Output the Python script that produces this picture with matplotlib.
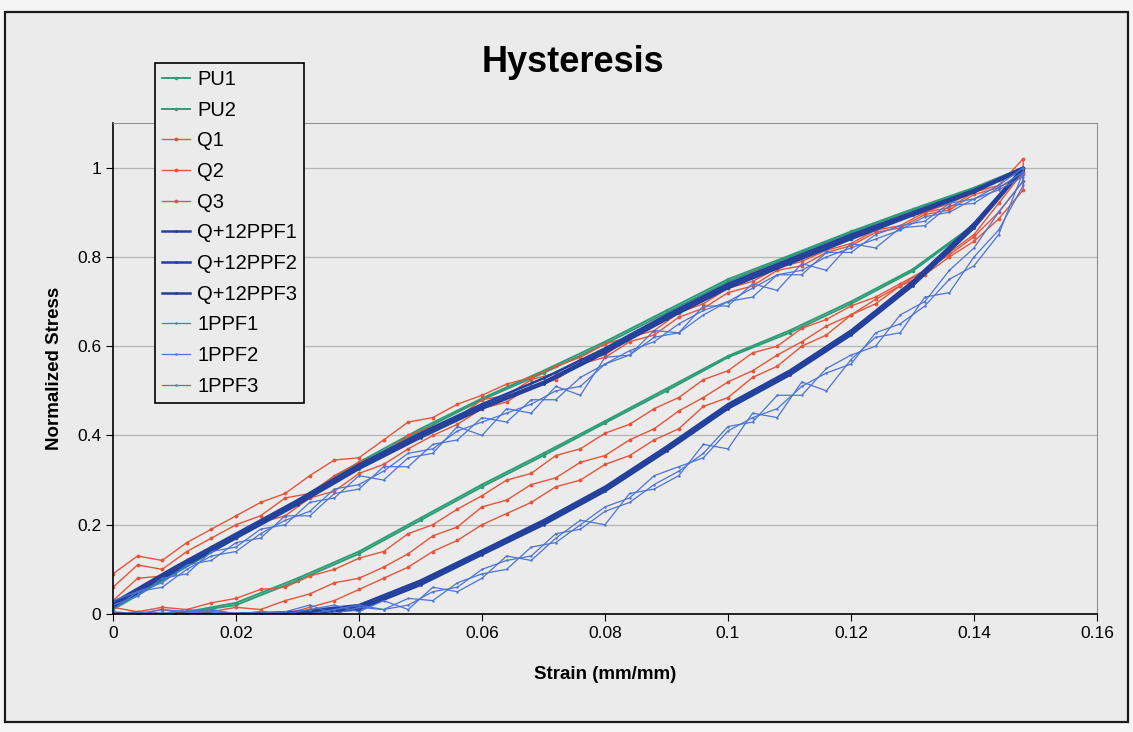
import matplotlib.pyplot as plt
from matplotlib.patches import Rectangle

# strain grids (mm/mm)
strain_c = [0.0, 0.01, 0.02, 0.03, 0.04, 0.05, 0.06, 0.07, 0.08, 0.09,
            0.10, 0.11, 0.12, 0.13, 0.14, 0.148]
strain_f = [0.000, 0.004, 0.008, 0.012, 0.016, 0.020, 0.024, 0.028, 0.032, 0.036,
            0.040, 0.044, 0.048, 0.052, 0.056, 0.060, 0.064, 0.068, 0.072, 0.076,
            0.080, 0.084, 0.088, 0.092, 0.096, 0.100, 0.104, 0.108, 0.112, 0.116,
            0.120, 0.124, 0.128, 0.132, 0.136, 0.140, 0.144, 0.148]

# normalized stress, loading (up) and unloading (lo) branches
pu1_up = [0.01, 0.09, 0.17, 0.25, 0.335, 0.41, 0.48, 0.54, 0.605, 0.675, 0.745, 0.80, 0.855, 0.905, 0.952, 1.0]
pu1_lo = [0.0, 0.0, 0.02, 0.075, 0.135, 0.21, 0.285, 0.355, 0.428, 0.50, 0.575, 0.63, 0.695, 0.768, 0.87, 1.0]
pu2_up = [0.015, 0.095, 0.175, 0.255, 0.34, 0.415, 0.483, 0.545, 0.61, 0.68, 0.75, 0.803, 0.857, 0.907, 0.955, 1.0]
pu2_lo = [0.0, 0.0, 0.025, 0.08, 0.14, 0.215, 0.29, 0.36, 0.432, 0.505, 0.578, 0.635, 0.70, 0.772, 0.872, 1.0]

q1_up = [0.09, 0.13, 0.12, 0.16, 0.19, 0.22, 0.25, 0.27, 0.31, 0.345, 0.35, 0.39, 0.43, 0.44, 0.47, 0.49, 0.515, 0.53, 0.555,
         0.575, 0.605, 0.62, 0.655, 0.68, 0.71, 0.73, 0.765, 0.78, 0.80, 0.825, 0.84, 0.86, 0.885, 0.90, 0.92, 0.945, 0.975, 1.0]
q1_lo = [0.015, 0.005, 0.015, 0.01, 0.025, 0.035, 0.055, 0.06, 0.085, 0.10, 0.125, 0.14, 0.18, 0.20, 0.235, 0.265, 0.30, 0.315, 0.355,
         0.37, 0.405, 0.425, 0.46, 0.485, 0.525, 0.545, 0.585, 0.60, 0.64, 0.66, 0.69, 0.71, 0.74, 0.77, 0.81, 0.85, 0.92, 0.99]
q2_up = [0.03, 0.08, 0.085, 0.12, 0.15, 0.17, 0.205, 0.22, 0.26, 0.275, 0.315, 0.335, 0.37, 0.40, 0.425, 0.46, 0.475, 0.51, 0.525,
         0.56, 0.575, 0.61, 0.625, 0.665, 0.685, 0.72, 0.735, 0.77, 0.78, 0.81, 0.825, 0.855, 0.865, 0.895, 0.905, 0.94, 0.955, 0.985]
q2_lo = [0.005, 0.0, 0.01, 0.0, 0.005, 0.015, 0.01, 0.03, 0.045, 0.07, 0.08, 0.105, 0.135, 0.175, 0.195, 0.24, 0.255, 0.29, 0.305,
         0.34, 0.355, 0.39, 0.415, 0.455, 0.485, 0.52, 0.545, 0.58, 0.61, 0.645, 0.67, 0.705, 0.735, 0.77, 0.805, 0.845, 0.90, 0.97]
q3_up = [0.06, 0.11, 0.10, 0.14, 0.17, 0.20, 0.22, 0.26, 0.27, 0.31, 0.34, 0.36, 0.40, 0.42, 0.44, 0.48, 0.49, 0.525, 0.54,
         0.57, 0.58, 0.62, 0.635, 0.675, 0.695, 0.73, 0.745, 0.775, 0.79, 0.815, 0.83, 0.86, 0.87, 0.90, 0.91, 0.945, 0.96, 1.02]
q3_lo = [0.0, 0.005, 0.0, 0.0, 0.01, 0.0, 0.005, 0.0, 0.015, 0.03, 0.055, 0.08, 0.105, 0.14, 0.165, 0.20, 0.225, 0.25, 0.285,
         0.30, 0.335, 0.355, 0.39, 0.415, 0.465, 0.485, 0.53, 0.555, 0.60, 0.625, 0.67, 0.695, 0.735, 0.76, 0.80, 0.835, 0.885, 0.95]

qp1_up = [0.02, 0.10, 0.175, 0.25, 0.33, 0.40, 0.465, 0.52, 0.59, 0.665, 0.735, 0.79, 0.845, 0.897, 0.947, 1.0]
qp1_lo = [0.0, 0.0, 0.0, 0.002, 0.015, 0.07, 0.138, 0.205, 0.28, 0.37, 0.465, 0.54, 0.63, 0.74, 0.87, 1.0]
qp2_up = [0.025, 0.105, 0.18, 0.255, 0.335, 0.405, 0.47, 0.528, 0.595, 0.67, 0.74, 0.795, 0.85, 0.90, 0.95, 1.0]
qp2_lo = [0.0, 0.0, 0.0, 0.005, 0.02, 0.075, 0.142, 0.21, 0.285, 0.375, 0.47, 0.545, 0.635, 0.745, 0.875, 1.0]
qp3_up = [0.015, 0.095, 0.17, 0.245, 0.325, 0.395, 0.46, 0.515, 0.585, 0.66, 0.73, 0.785, 0.84, 0.893, 0.945, 0.995]
qp3_lo = [0.0, 0.0, 0.0, 0.0, 0.01, 0.065, 0.133, 0.2, 0.275, 0.365, 0.46, 0.535, 0.625, 0.735, 0.865, 0.995]

p1_up = [0.02, 0.04, 0.08, 0.09, 0.14, 0.15, 0.19, 0.20, 0.25, 0.26, 0.31, 0.30, 0.35, 0.36, 0.42, 0.40, 0.46, 0.45, 0.51,
         0.49, 0.575, 0.58, 0.635, 0.63, 0.69, 0.69, 0.74, 0.725, 0.785, 0.77, 0.83, 0.82, 0.865, 0.87, 0.915, 0.92, 0.955, 0.99]
p1_lo = [0.0, 0.005, 0.0, 0.0, 0.01, 0.0, 0.0, 0.005, 0.02, 0.0, 0.015, 0.01, 0.02, 0.05, 0.06, 0.10, 0.12, 0.13, 0.18,
         0.19, 0.23, 0.25, 0.29, 0.32, 0.36, 0.42, 0.43, 0.49, 0.49, 0.55, 0.58, 0.60, 0.67, 0.70, 0.77, 0.82, 0.90, 0.97]
p2_up = [0.03, 0.05, 0.07, 0.11, 0.12, 0.16, 0.17, 0.22, 0.22, 0.27, 0.28, 0.33, 0.33, 0.38, 0.39, 0.44, 0.43, 0.48, 0.48,
         0.53, 0.56, 0.59, 0.61, 0.65, 0.68, 0.70, 0.73, 0.76, 0.77, 0.80, 0.82, 0.84, 0.86, 0.89, 0.90, 0.93, 0.95, 0.98]
p2_lo = [0.0, 0.0, 0.01, 0.005, 0.0, 0.0, 0.005, 0.0, 0.01, 0.02, 0.005, 0.03, 0.01, 0.06, 0.05, 0.08, 0.13, 0.12, 0.17,
         0.21, 0.20, 0.27, 0.28, 0.31, 0.38, 0.37, 0.45, 0.44, 0.52, 0.50, 0.57, 0.62, 0.63, 0.71, 0.72, 0.80, 0.86, 0.96]
p3_up = [0.01, 0.05, 0.06, 0.10, 0.13, 0.14, 0.18, 0.21, 0.23, 0.28, 0.29, 0.32, 0.36, 0.37, 0.41, 0.43, 0.45, 0.47, 0.50,
         0.51, 0.56, 0.58, 0.62, 0.63, 0.67, 0.70, 0.71, 0.76, 0.76, 0.81, 0.81, 0.85, 0.87, 0.88, 0.92, 0.93, 0.96, 1.0]
p3_lo = [0.0, 0.0, 0.0, 0.01, 0.005, 0.0, 0.0, 0.0, 0.0, 0.01, 0.02, 0.01, 0.035, 0.03, 0.07, 0.09, 0.10, 0.15, 0.16,
         0.20, 0.24, 0.26, 0.31, 0.33, 0.35, 0.41, 0.44, 0.46, 0.51, 0.54, 0.56, 0.63, 0.65, 0.69, 0.75, 0.78, 0.85, 0.99]

xticks = [0, 0.02, 0.04, 0.06, 0.08, 0.1, 0.12, 0.14, 0.16]
xtick_labels = ['0', '0.02', '0.04', '0.06', '0.08', '0.1', '0.12', '0.14', '0.16']
yticks = [0, 0.2, 0.4, 0.6, 0.8, 1.0]
ytick_labels = ['0', '0.2', '0.4', '0.6', '0.8', '1']

GREEN = '#2f9c78'
RED = '#e4553b'
NAVY = '#22409c'
LBLUE = '#4b74d6'

series = [
    ('PU1', strain_c, pu1_up, pu1_lo, GREEN, 1.4, 3),
    ('PU2', strain_c, pu2_up, pu2_lo, GREEN, 1.4, 3),
    ('Q1', strain_f, q1_up, q1_lo, RED, 1.0, 3.5),
    ('Q2', strain_f, q2_up, q2_lo, RED, 1.0, 3.5),
    ('Q3', strain_f, q3_up, q3_lo, RED, 1.0, 3.5),
    ('Q+12PPF1', strain_c, qp1_up, qp1_lo, NAVY, 1.8, 2),
    ('Q+12PPF2', strain_c, qp2_up, qp2_lo, NAVY, 1.8, 2),
    ('Q+12PPF3', strain_c, qp3_up, qp3_lo, NAVY, 1.8, 2),
    ('1PPF1', strain_f, p1_up, p1_lo, LBLUE, 0.9, 1.5),
    ('1PPF2', strain_f, p2_up, p2_lo, LBLUE, 0.9, 1.5),
    ('1PPF3', strain_f, p3_up, p3_lo, LBLUE, 0.9, 1.5),
]

plt.rcParams['font.family'] = ['Liberation Sans', 'DejaVu Sans']
BG = '#ebebeb'

fig = plt.figure(figsize=(11.33, 7.32), dpi=100, facecolor='#f5f5f5')
fig.patches.append(Rectangle((5 / 1133, 1 - 722 / 732), 1123 / 1133, 710 / 732,
                             transform=fig.transFigure, facecolor=BG,
                             edgecolor='#1a1a1a', linewidth=1.6, zorder=-5))

ax = fig.add_axes([113 / 1133, 118 / 732, 984 / 1133, 491 / 732])
ax.set_facecolor(BG)

for name, x, up, lo, color, lw, ms in series:
    xs = list(x) + list(x)[::-1]
    ys = list(up) + list(lo)[::-1]
    ax.plot(xs, ys, color=color, lw=lw, marker='.', ms=ms, label=name)

ax.set_xlim(0, 0.16)
ax.set_ylim(0, 1.1)
ax.set_xticks(xticks)
ax.set_xticklabels(xtick_labels)
ax.set_yticks(yticks)
ax.set_yticklabels(ytick_labels)
ax.tick_params(labelsize=12.5, direction='out', length=5, colors='black')
ax.yaxis.grid(True, color='#b5b5b5', lw=0.9)
ax.set_axisbelow(True)
ax.spines[['top', 'right']].set_color('#909090')
ax.spines[['left', 'bottom']].set_color('black')
ax.spines[['left', 'bottom']].set_linewidth(1.2)

ax.set_xlabel('Strain (mm/mm)', fontsize=13.5, fontweight='bold', labelpad=18)
ax.set_ylabel('Normalized Stress', fontsize=13.5, fontweight='bold', labelpad=10)

fig.text(573 / 1133, 1 - 62 / 732, 'Hysteresis', fontsize=26, fontweight='bold',
         ha='center', va='center')

leg = fig.legend(loc='upper left', bbox_to_anchor=(155 / 1133, 1 - 63 / 732),
                 borderaxespad=0, fontsize=14.5, frameon=True, fancybox=False,
                 edgecolor='black', facecolor=BG, framealpha=1, labelspacing=0.58,
                 handlelength=1.4, handletextpad=0.35, borderpad=0.35,
                 markerscale=1.0, numpoints=1)
leg.get_frame().set_linewidth(1.2)

fig.savefig('out.png', dpi=100, facecolor=fig.get_facecolor())
